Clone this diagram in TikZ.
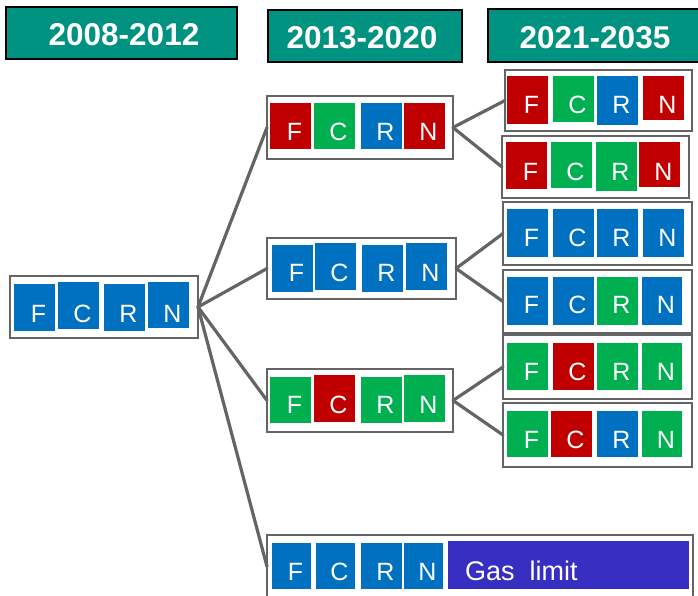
\documentclass[tikz,border=0pt]{standalone}
\usepackage{fontspec}
\newfontfamily\arialf{Liberation Sans}
\definecolor{cred}{RGB}{192,0,0}
\definecolor{cgreen}{RGB}{0,176,80}
\definecolor{cblue}{RGB}{0,112,192}
\definecolor{cteal}{RGB}{0,146,128}
\definecolor{cgas}{RGB}{55,46,194}
\definecolor{cline}{RGB}{100,100,100}
\tikzset{
  sqr/.style={draw=none,inner sep=0pt,outer sep=0pt},
  lettr/.style={inner sep=0pt,anchor=base,text=white,font=\arialf\fontsize{25}{25}\selectfont},
  obox/.style={draw=cline,line width=2.5pt,fill=white,inner sep=0pt,outer sep=0pt},
  hdr/.style={draw=black,line width=2.2pt,fill=cteal,inner sep=0pt,outer sep=0pt},
  hdrtext/.style={text=white,font=\arialf\bfseries\fontsize{31.5}{31.5}\selectfont,inner sep=0pt},
  conn/.style={draw=cline,line width=3.2pt,line cap=round}
}
% name, x1, y1, x2, y2, colour, letter, baseline
\newcommand\mysq[8]{%
  \node[sqr,fill=#6,minimum width={(#4-#2)*1pt},minimum height={(#5-#3)*1pt}] (#1) at ({(#2+#4)/2},{(#3+#5)/2}) {};
  \node[lettr] (#1t) at ({(#2+#4)/2+4},#8) {#7};}
% name, x1, y1, x2, y2
\newcommand\mybox[5]{%
  \node[obox,minimum width={(#4-#2)*1pt},minimum height={(#5-#3)*1pt}] (#1) at ({(#2+#4)/2},{(#3+#5)/2}) {};}
\begin{document}
\begin{tikzpicture}[x=1pt,y=-1pt]
\useasboundingbox (0,0) rectangle (698,596);
% headers
\node[hdr,minimum width=231pt,minimum height=52pt] (h1) at (121.5,33) {};
\node[hdrtext] (h1t) at (124,35) {2008-2012};
\node[hdr,minimum width=194pt,minimum height=52pt] (h2) at (365,36) {};
\node[hdrtext] (h2t) at (362,38) {2013-2020};
\node[hdr,minimum width=212pt,minimum height=53pt] (h3) at (594,35.5) {};
\node[hdrtext] (h3t) at (595,38) {2021-2035};
% outer boxes
\mybox{l}{10}{276}{198}{338}
\mybox{m1}{267}{96}{453}{159}
\mybox{m2}{267}{238}{456}{299}
\mybox{m3}{267}{369}{453}{432}
\mybox{b}{267}{535}{693}{598}
\mybox{rA}{505}{70}{692}{131}
\mybox{rB}{502}{136}{689}{198}
\mybox{rC}{503}{202}{692}{265}
\mybox{rD}{503}{270}{692}{333}
\mybox{rE}{503}{335}{692}{399}
\mybox{rF}{503}{403}{692}{467}
% connectors
\draw[conn] (l.east) -- (m1.west);
\draw[conn] (l.east) -- (m2.west);
\draw[conn] (l.east) -- (m3.west);
\draw[conn] (l.east) -- (b.west);
\draw[conn] (m1.east) -- (rA.west);
\draw[conn] (m1.east) -- (rB.west);
\draw[conn] (m2.east) -- (rC.west);
\draw[conn] (m2.east) -- (rD.west);
\draw[conn] (m3.east) -- (rE.west);
\draw[conn] (m3.east) -- (rF.west);
% left
\mysq{lF}{14}{284}{55}{331}{cblue}{F}{322}
\mysq{lC}{58}{282}{99}{329}{cblue}{C}{322}
\mysq{lR}{104}{284}{145}{331}{cblue}{R}{322}
\mysq{lN}{148}{282}{189}{328}{cblue}{N}{322}
% m1
\mysq{m1F}{270}{103}{311}{149}{cred}{F}{140.7}
\mysq{m1C}{314}{103}{355}{149}{cgreen}{C}{140.7}
\mysq{m1R}{361}{103}{402}{149}{cblue}{R}{140.7}
\mysq{m1N}{404}{103}{445}{149}{cred}{N}{140.7}
% m2
\mysq{m2F}{272}{245}{313}{292}{cblue}{F}{281.7}
\mysq{m2C}{315}{243}{356}{290}{cblue}{C}{281.7}
\mysq{m2R}{362}{245}{403}{292}{cblue}{R}{281.7}
\mysq{m2N}{406}{243}{447}{290}{cblue}{N}{281.7}
% m3
\mysq{m3F}{270}{377}{311}{423}{cgreen}{F}{413.3}
\mysq{m3C}{314}{375}{355}{422}{cred}{C}{413.3}
\mysq{m3R}{361}{377}{402}{423}{cgreen}{R}{413.3}
\mysq{m3N}{404}{375}{445}{422}{cgreen}{N}{413.3}
% rA
\mysq{rAF}{507}{76}{548}{124}{cred}{F}{113.3}
\mysq{rAC}{553}{76}{594}{122}{cgreen}{C}{113.3}
\mysq{rAR}{597}{76}{638}{125}{cblue}{R}{113.3}
\mysq{rAN}{643}{76}{684}{120}{cred}{N}{113.3}
% rB
\mysq{rBF}{506}{142}{547}{189}{cred}{F}{180}
\mysq{rBC}{551}{142}{592}{188}{cgreen}{C}{180}
\mysq{rBR}{596}{142}{637}{191}{cgreen}{R}{180}
\mysq{rBN}{639}{142}{680}{187}{cred}{N}{180}
% rC
\mysq{rCF}{507}{209}{548}{257}{cblue}{F}{246.7}
\mysq{rCC}{553}{209}{594}{257}{cblue}{C}{246.7}
\mysq{rCR}{597}{209}{638}{257}{cblue}{R}{246.7}
\mysq{rCN}{643}{209}{684}{257}{cblue}{N}{246.7}
% rD
\mysq{rDF}{507}{277}{548}{325}{cblue}{F}{313.3}
\mysq{rDC}{553}{277}{594}{325}{cblue}{C}{313.3}
\mysq{rDR}{597}{277}{638}{325}{cgreen}{R}{313.3}
\mysq{rDN}{642}{277}{682}{325}{cblue}{N}{313.3}
% rE
\mysq{rEF}{507}{343}{548}{390}{cgreen}{F}{380.7}
\mysq{rEC}{553}{343}{594}{390}{cred}{C}{380.7}
\mysq{rER}{597}{343}{638}{390}{cgreen}{R}{380.7}
\mysq{rEN}{642}{343}{682}{390}{cgreen}{N}{380.7}
% rF
\mysq{rFF}{507}{411}{548}{457}{cgreen}{F}{448.3}
\mysq{rFC}{551}{411}{592}{457}{cred}{C}{448.3}
\mysq{rFR}{597}{411}{638}{457}{cblue}{R}{448.3}
\mysq{rFN}{642}{411}{682}{457}{cgreen}{N}{448.3}
% bottom
\mysq{bF}{272}{543}{311}{589}{cblue}{F}{580}
\mysq{bC}{316}{543}{355}{589}{cblue}{C}{580}
\mysq{bR}{361}{543}{402}{589}{cblue}{R}{580}
\mysq{bN}{404}{543}{443}{589}{cblue}{N}{580}
\node[sqr,fill=cgas,minimum width=241pt,minimum height=48pt] (gas) at (568.5,565) {};
\node[inner sep=0pt,anchor=base west,text=white,font=\arialf\fontsize{27}{27}\selectfont] (gast) at (465,580) {Gas\ \ limit};
\end{tikzpicture}
\end{document}
